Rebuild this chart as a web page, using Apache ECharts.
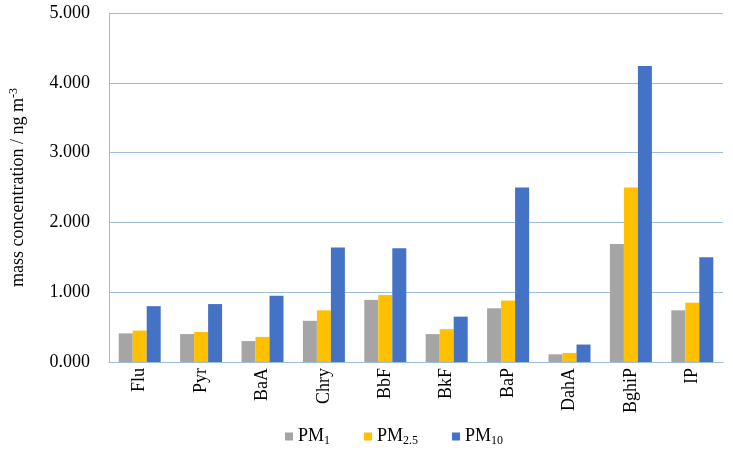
<!DOCTYPE html>
<html>
<head>
<meta charset="utf-8">
<script src="https://cdn.jsdelivr.net/npm/echarts@6/dist/echarts.min.js"></script>
<style>
  html, body { margin: 0; padding: 0; background: #fff; }
  #main { width: 733px; height: 453px; }
</style>
</head>
<body>
<div id="main"></div>
<script>
// compounds on the x axis
var categories = ['Flu', 'Pyr', 'BaA', 'Chry', 'BbF', 'BkF', 'BaP', 'DahA', 'BghiP', 'IP'];
// mass concentration, ng m-3
var pm1  = [0.41, 0.40, 0.30, 0.59, 0.89, 0.40, 0.77, 0.11, 1.69, 0.74];
var pm25 = [0.45, 0.43, 0.36, 0.74, 0.96, 0.47, 0.88, 0.13, 2.50, 0.85];
var pm10 = [0.80, 0.83, 0.95, 1.64, 1.63, 0.65, 2.50, 0.25, 4.24, 1.50];
var yTicks = [0, 1, 2, 3, 4, 5];

var serif = 'Liberation Serif';
var gridColor = '#9dbcdb';

var chart = echarts.init(document.getElementById('main'));

// legend names with subscripts
var legendSubs = { 'PM1': '1', 'PM2.5': '2.5', 'PM10': '10' };

var option = {
  animation: false,
  grid: { left: 104, top: 13, right: 10, bottom: 91, containLabel: false },
  legend: {
    bottom: 1,
    left: 280,
    itemWidth: 8,
    itemHeight: 8,
    itemGap: 34,
    icon: 'rect',
    data: ['PM1', 'PM2.5', 'PM10'],
    formatter: function (name) {
      return '{m|PM}{s|' + legendSubs[name] + '}';
    },
    textStyle: {
      rich: {
        m: { fontFamily: serif, fontSize: 18, color: '#000' },
        s: { fontFamily: serif, fontSize: 12, color: '#000', padding: [9, 0, 0, 0] }
      }
    }
  },
  xAxis: {
    type: 'category',
    data: categories,
    axisLine: { lineStyle: { color: gridColor, width: 1 } },
    axisTick: { show: false },
    axisLabel: {
      rotate: 90,
      fontFamily: serif,
      fontSize: 18,
      color: '#000',
      margin: 6
    }
  },
  yAxis: {
    type: 'value',
    min: yTicks[0],
    max: yTicks[yTicks.length - 1],
    interval: 1,
    name: '{t|mass concentration / ng m}{sup|-3}',
    nameLocation: 'middle',
    nameRotate: 90,
    nameGap: 80,
    nameTextStyle: {
      rich: {
        t: { fontFamily: serif, fontSize: 18, color: '#000' },
        sup: { fontFamily: serif, fontSize: 12, color: '#000', padding: [0, 0, 9, 0] }
      }
    },
    axisLine: { show: true, lineStyle: { color: gridColor, width: 1 } },
    axisTick: { show: false },
    splitLine: { lineStyle: { color: gridColor, width: 1 } },
    axisLabel: {
      fontFamily: serif,
      fontSize: 18,
      color: '#000',
      margin: 19,
      formatter: function (v) { return v.toFixed(3); }
    }
  },
  series: [
    { name: 'PM1', type: 'bar', data: pm1, barWidth: 14, barGap: '0%', itemStyle: { color: '#a5a5a5' } },
    { name: 'PM2.5', type: 'bar', data: pm25, barWidth: 14, barGap: '0%', itemStyle: { color: '#ffc000' } },
    { name: 'PM10', type: 'bar', data: pm10, barWidth: 14, barGap: '0%', itemStyle: { color: '#4472c4' } }
  ]
};

chart.setOption(option);
</script>
</body>
</html>
